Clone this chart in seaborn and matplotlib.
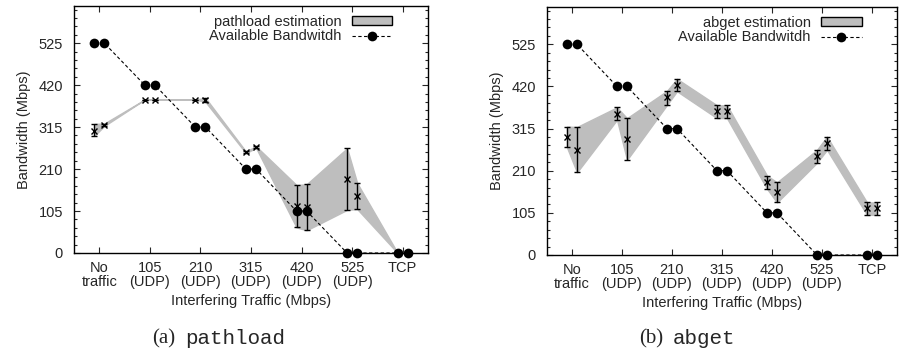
import numpy as np
import pandas as pd
import seaborn as sns
import matplotlib
matplotlib.use('Agg')
import matplotlib.pyplot as plt
from matplotlib.patches import Patch
from matplotlib.lines import Line2D
from matplotlib.ticker import MultipleLocator

# data
categories = ['No\ntraffic', '105\n(UDP)', '210\n(UDP)', '315\n(UDP)', '420\n(UDP)', '525\n(UDP)', 'TCP']
avail = [525, 525, 420, 420, 315, 315, 210, 210, 105, 105, 0, 0, 0, 0]

pathload_mid = [306, 321, 384, 384, 384, 383, 252, 265, 118, 116, 185, 143, 0, 0]
pathload_lo = [293, 318, 384, 384, 384, 378, 250, 263, 64, 57, 108, 110, 0, 0]
pathload_hi = [323, 324, 384, 384, 384, 388, 254, 267, 170, 172, 262, 175, 0, 0]

abget_mid = [295, 262, 352, 289, 393, 424, 358, 358, 183, 156, 247, 280, 116, 116]
abget_lo = [268, 206, 337, 237, 374, 408, 341, 341, 165, 131, 230, 262, 100, 100]
abget_hi = [320, 319, 368, 341, 409, 439, 373, 373, 198, 181, 262, 295, 131, 131]

yticks = [0, 105, 210, 315, 420, 525]

sns.set_style('ticks')
plt.rcParams['font.family'] = ['Liberation Sans', 'DejaVu Sans']
plt.rcParams['font.size'] = 10.5

# two runs per category, slightly offset
xpos = np.repeat(np.arange(len(categories)), 2) + np.tile([-0.1, 0.1], len(categories))
BAND = '#bebebe'

fig = plt.figure(figsize=(9, 3.54), dpi=100)
ax1 = fig.add_axes([74/900, 1-253/354, 354/900, 247/354])
ax2 = fig.add_axes([547/900, 1-255/354, 350/900, 248/354])


def draw(ax, mid, lo, hi, name):
    mid = np.array(mid); lo = np.array(lo); hi = np.array(hi)
    ax.fill_between(xpos, lo, hi, facecolor=BAND, edgecolor=BAND, lw=1, zorder=1)
    df = pd.DataFrame({'x': xpos, 'y': avail})
    sns.lineplot(data=df, x='x', y='y', ax=ax, color='black', lw=0.8,
                 linestyle=(0, (3, 2.2)), marker='o', markersize=7, markeredgewidth=0,
                 errorbar=None, zorder=3, clip_on=False)
    ax.errorbar(xpos, mid, yerr=[mid-lo, hi-mid], fmt='x', color='black', ms=5, mew=1,
                elinewidth=1, capsize=2.2, capthick=1, zorder=4)
    ax.set_xlim(-0.5, 6.5)
    ax.set_ylim(0, 618)
    ax.set_xticks(range(len(categories)))
    ax.set_xticklabels(categories, linespacing=0.95)
    ax.set_yticks(yticks)
    ax.yaxis.set_minor_locator(MultipleLocator(21))
    ax.tick_params(which='both', direction='in', top=True, right=True, labelsize=10.5)
    ax.tick_params(which='major', length=4, width=0.8, pad=6)
    ax.tick_params(axis='y', which='major', pad=8)
    ax.tick_params(which='minor', length=2, width=0.8)
    ax.tick_params(axis='x', which='minor', top=False, bottom=False)
    for s in ax.spines.values():
        s.set_linewidth(1)
        s.set_color('black')
    ax.set_xlabel('Interfering Traffic (Mbps)', labelpad=4)
    ax.set_ylabel('Bandwidth (Mbps)', labelpad=5)
    handles = [Patch(facecolor=BAND, edgecolor='black', lw=1),
               Line2D([], [], color='black', lw=0.8, linestyle=(0, (3, 2.2)), marker='o', ms=7, mew=0)]
    ax.legend(handles, [name + ' estimation', 'Available Bandwitdh'], loc='upper right',
              bbox_to_anchor=(0.92, 0.995), frameon=False, markerfirst=False, borderpad=0,
              handlelength=2.8, handleheight=0.5, handletextpad=0.7, labelspacing=0.05,
              fontsize=10.5)


draw(ax1, pathload_mid, pathload_lo, pathload_hi, 'pathload')
draw(ax2, abget_mid, abget_lo, abget_hi, 'abget')

# sub-figure captions
fig.text(175/900, 1-339/354, '(a)', ha='right', va='center', fontsize=15, family='Liberation Serif')
fig.text(185/900, 1-339/354, 'pathload', ha='left', va='center', fontsize=15, family='Liberation Mono')
fig.text(663/900, 1-339/354, '(b)', ha='right', va='center', fontsize=15, family='Liberation Serif')
fig.text(673/900, 1-339/354, 'abget', ha='left', va='center', fontsize=15, family='Liberation Mono')

fig.savefig('out.png', dpi=100)
